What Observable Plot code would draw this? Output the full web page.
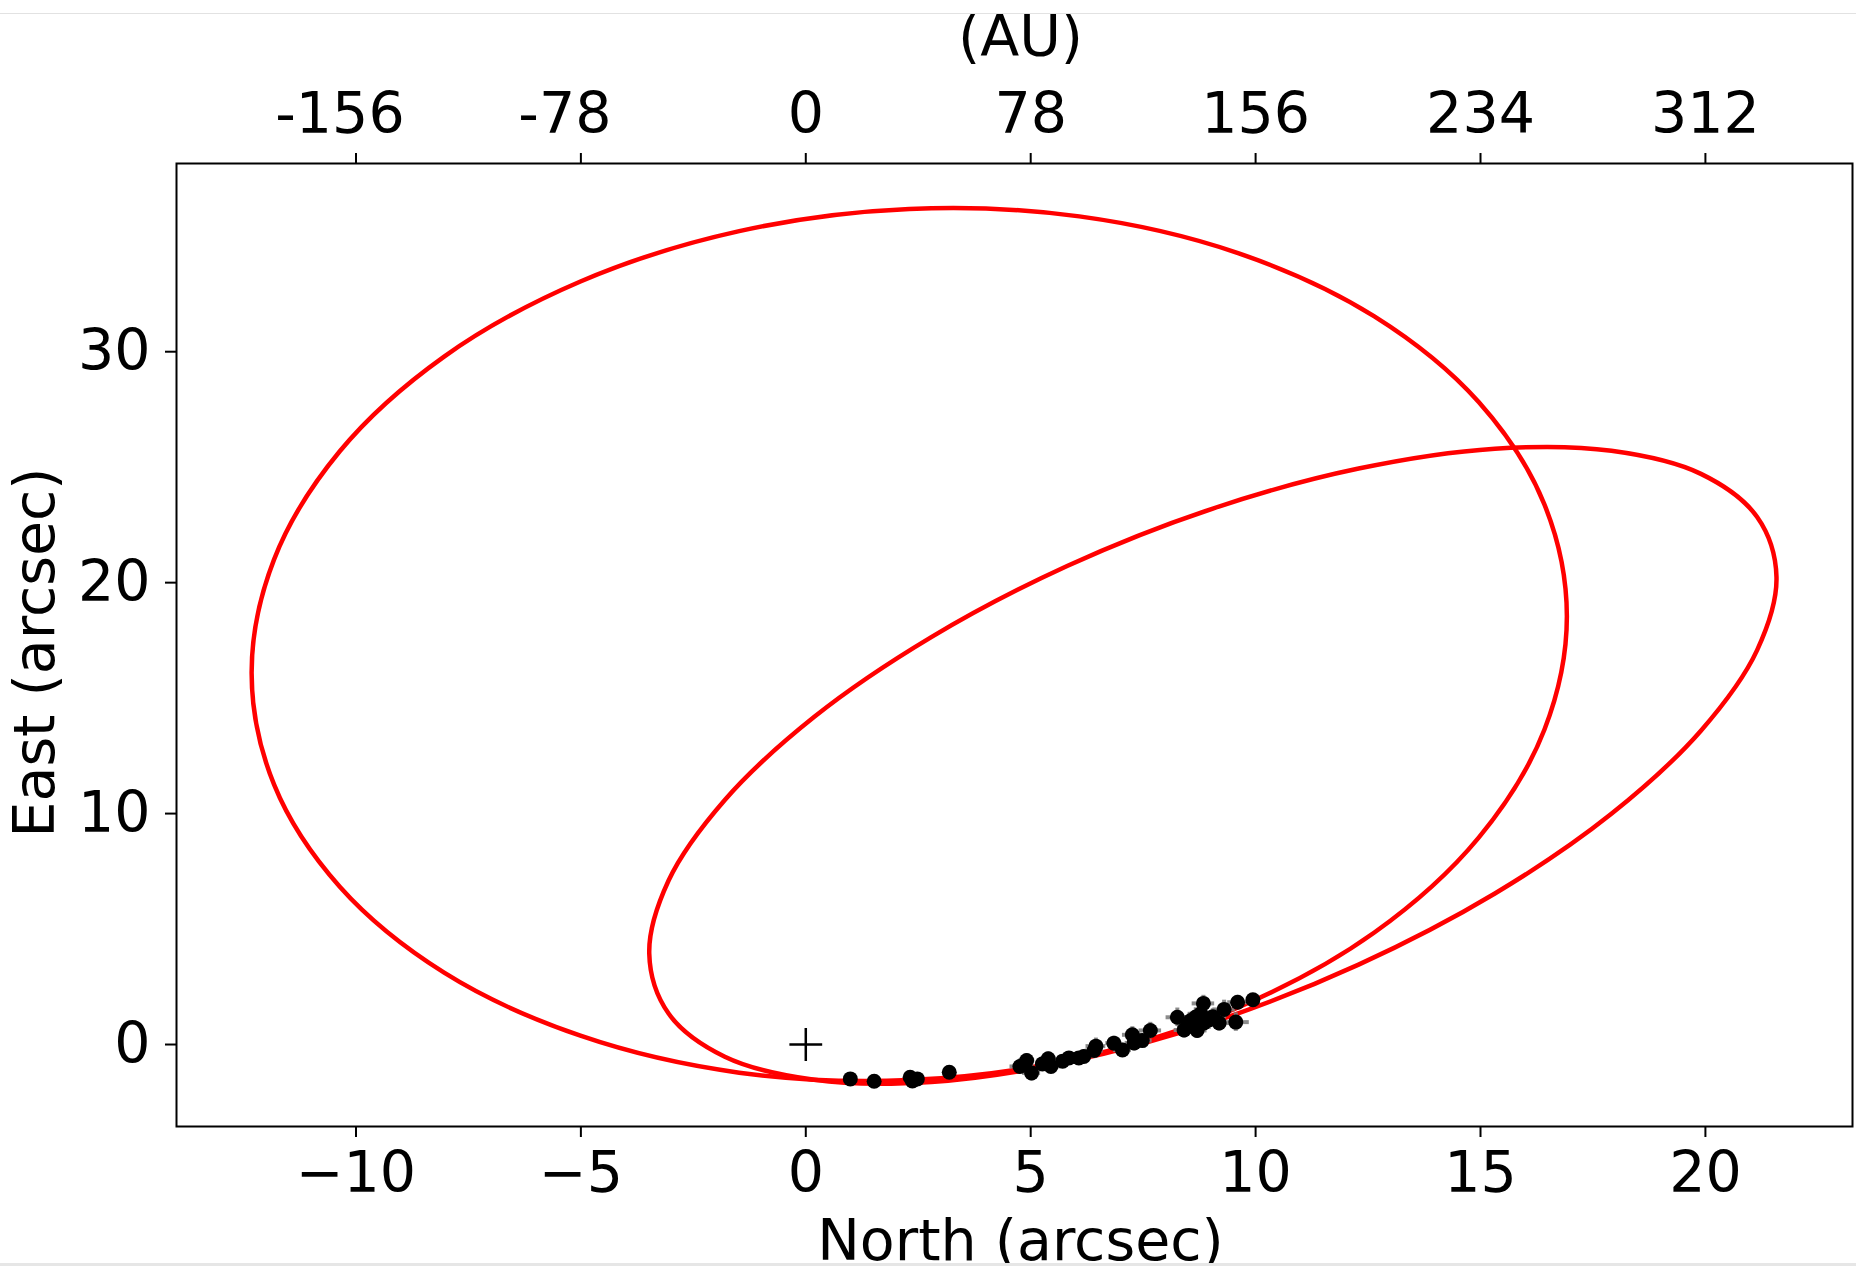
<!DOCTYPE html>
<html>
<head>
<meta charset="utf-8">
<script src="https://cdn.jsdelivr.net/npm/d3@7"></script>
<script src="https://cdn.jsdelivr.net/npm/@observablehq/plot@0.6"></script>
<style>
html, body { margin: 0; padding: 0; background: #fff; }
#chart { position: relative; width: 1856px; height: 1266px; overflow: hidden; background: #fff; }
#chart svg { position: absolute; left: 0; top: 0; }
.edge-top { position: absolute; left: 0; top: 13px; width: 1856px; height: 1px; background: #e2e2e2; }
.edge-bottom { position: absolute; left: 0; top: 1263px; width: 1856px; height: 3px; background: #e6e6e6; }
</style>
</head>
<body>
<div id="chart"></div>
<script>
// ---- Orbit 1 (large ellipse): North / East in arcsec
const orbit1North = [16.92, 16.42, 14.96, 12.64, 9.61, 6.08, 2.30, -1.48, -5.01, -8.04, -10.36, -11.82,
                     -12.32, -11.82, -10.36, -8.04, -5.01, -1.48, 2.30, 6.08, 9.61, 12.64, 14.96, 16.42];
const orbit1East  = [18.55, 23.39, 27.82, 31.53, 34.27, 35.86, 36.18, 35.22, 33.04, 29.79, 25.69, 21.01,
                     16.09, 11.25, 6.83, 3.11, 0.38, -1.22, -1.54, -0.58, 1.61, 4.85, 8.96, 13.63];

// ---- Orbit 2 (tilted ellipse)
const orbit2North = [21.58, 21.15, 19.90, 17.91, 15.32, 12.29, 9.05, 5.81, 2.79, 0.19, -1.80, -3.05,
                     -3.48, -3.05, -1.80, 0.19, 2.79, 5.81, 9.05, 12.29, 15.32, 17.91, 19.90, 21.15];
const orbit2East  = [20.24, 22.84, 24.71, 25.71, 25.80, 24.94, 23.21, 20.72, 17.64, 14.19, 10.59, 7.10,
                     3.94, 1.34, -0.53, -1.53, -1.62, -0.76, 0.97, 3.46, 6.54, 9.99, 13.59, 17.08];

// ---- Astrometric measurements
const obsNorth = [0.99, 1.52, 2.32, 2.48, 2.37, 3.19, 4.76, 4.91, 5.02, 5.26, 5.39, 5.45, 5.71, 5.85,
                  6.07, 6.18, 6.41, 6.45, 6.85, 7.04, 7.26, 7.30, 7.48, 7.66, 8.26, 8.41, 8.51, 8.67,
                  8.70, 8.78, 8.84, 8.85, 8.96, 9.19, 9.30, 9.56, 9.60, 9.94, 8.56, 8.62, 9.05];
const obsEast  = [-1.49, -1.59, -1.42, -1.49, -1.58, -1.20, -0.95, -0.69, -1.23, -0.84, -0.62, -0.95, -0.72, -0.58,
                  -0.58, -0.52, -0.26, -0.07, 0.06, -0.24, 0.42, 0.07, 0.17, 0.61, 1.18, 0.63, 0.84, 1.19,
                  0.61, 1.33, 1.78, 0.93, 1.06, 0.93, 1.52, 0.97, 1.83, 1.94, 1.04, 0.78, 1.20];
const obsNorthErr = [0.05, 0.05, 0.05, 0.05, 0.05, 0.08, 0.22, 0.18, 0.20, 0.15, 0.18, 0.20, 0.18, 0.15,
                     0.15, 0.18, 0.20, 0.22, 0.18, 0.20, 0.22, 0.20, 0.22, 0.25, 0.25, 0.22, 0.25, 0.25,
                     0.22, 0.28, 0.25, 0.22, 0.25, 0.28, 0.25, 0.30, 0.22, 0.10, 0.25, 0.22, 0.25];
const obsEastErr  = [0.10, 0.10, 0.10, 0.10, 0.10, 0.12, 0.30, 0.30, 0.35, 0.30, 0.30, 0.30, 0.25, 0.25,
                     0.25, 0.30, 0.35, 0.35, 0.30, 0.30, 0.35, 0.35, 0.30, 0.35, 0.40, 0.35, 0.40, 0.40,
                     0.35, 0.40, 0.35, 0.35, 0.40, 0.35, 0.40, 0.40, 0.30, 0.15, 0.35, 0.35, 0.35];

// ---- Host star position
const starNorth = [0];
const starEast  = [0];

// ---- Axes
const xTicks = [-10, -5, 0, 5, 10, 15, 20];
const yTicks = [0, 10, 20, 30];
const auTickLabels = ["-156", "-78", "0", "78", "156", "234", "312"];
const xLabel = "North (arcsec)";
const yLabel = "East (arcsec)";
const topLabel = "(AU)";

const orbit1 = orbit1North.map((x, i) => ({x, y: orbit1East[i]}));
const orbit2 = orbit2North.map((x, i) => ({x, y: orbit2East[i]}));
const obs = obsNorth.map((x, i) => ({x, y: obsEast[i], ex: obsNorthErr[i], ey: obsEastErr[i]}));
const star = starNorth.map((x, i) => ({x, y: starEast[i]}));
const auByTick = new Map(xTicks.map((t, i) => [t, auTickLabels[i]]));
const negTicks = xTicks.filter(t => t < 0);

const chart = Plot.plot({
  width: 1856,
  height: 1266,
  marginLeft: 176,
  marginRight: 4,
  marginTop: 163,
  marginBottom: 140,
  x: {domain: [-13.99, 23.27]},
  y: {domain: [-3.55, 38.15]},
  style: {fontFamily: "DejaVu Sans", fontSize: "57px", background: "white", color: "black"},
  marks: [
    Plot.line(orbit1, {x: "x", y: "y", curve: "catmull-rom-closed", stroke: "#ff0000", strokeWidth: 4.5}),
    Plot.line(orbit2, {x: "x", y: "y", curve: "catmull-rom-closed", stroke: "#ff0000", strokeWidth: 4.5}),
    Plot.ruleY(obs, {y: "y", x1: d => d.x - d.ex, x2: d => d.x + d.ex, stroke: "#7f7f7f", strokeWidth: 4, strokeOpacity: 0.9}),
    Plot.ruleX(obs, {x: "x", y1: d => d.y - d.ey, y2: d => d.y + d.ey, stroke: "#7f7f7f", strokeWidth: 4, strokeOpacity: 0.9}),
    Plot.dot(obs, {x: "x", y: "y", r: 7.5, fill: "black", stroke: "none"}),
    Plot.dot(star, {x: "x", y: "y", symbol: "plus", r: 10.6, stroke: "black", strokeWidth: 2.5}),
    Plot.frame({stroke: "black", strokeWidth: 2}),
    Plot.axisX({anchor: "bottom", ticks: xTicks, tickSize: 11, tickPadding: 14, strokeWidth: 2, label: null}),
    Plot.axisX({anchor: "top", ticks: xTicks, tickFormat: d => (d < 0 ? "" : auByTick.get(d)), tickSize: 11, tickPadding: 20, strokeWidth: 2, label: null}),
    Plot.axisX({anchor: "top", ticks: negTicks, tickFormat: d => auByTick.get(d), tickSize: 0, tickPadding: 31, dx: -16, label: null}),
    Plot.axisY({anchor: "left", ticks: yTicks, tickSize: 11, tickPadding: 15, strokeWidth: 2, label: null}),
    Plot.text([xLabel], {frameAnchor: "bottom", text: d => d, lineAnchor: "bottom", dx: 6, dy: 133, fontSize: 57, fill: "black"}),
    Plot.text([topLabel], {frameAnchor: "top", text: d => d, lineAnchor: "bottom", dx: 6, dy: -108, fontSize: 57, fill: "black"}),
    Plot.text([yLabel], {frameAnchor: "left", text: d => d, textAnchor: "middle", lineAnchor: "bottom", rotate: -90, dx: -123, dy: 7.5, fontSize: 57, fill: "black"})
  ]
});

const host = document.getElementById("chart");
host.appendChild(chart);
const t = document.createElement("div"); t.className = "edge-top"; host.appendChild(t);
const b = document.createElement("div"); b.className = "edge-bottom"; host.appendChild(b);
</script>
</body>
</html>
